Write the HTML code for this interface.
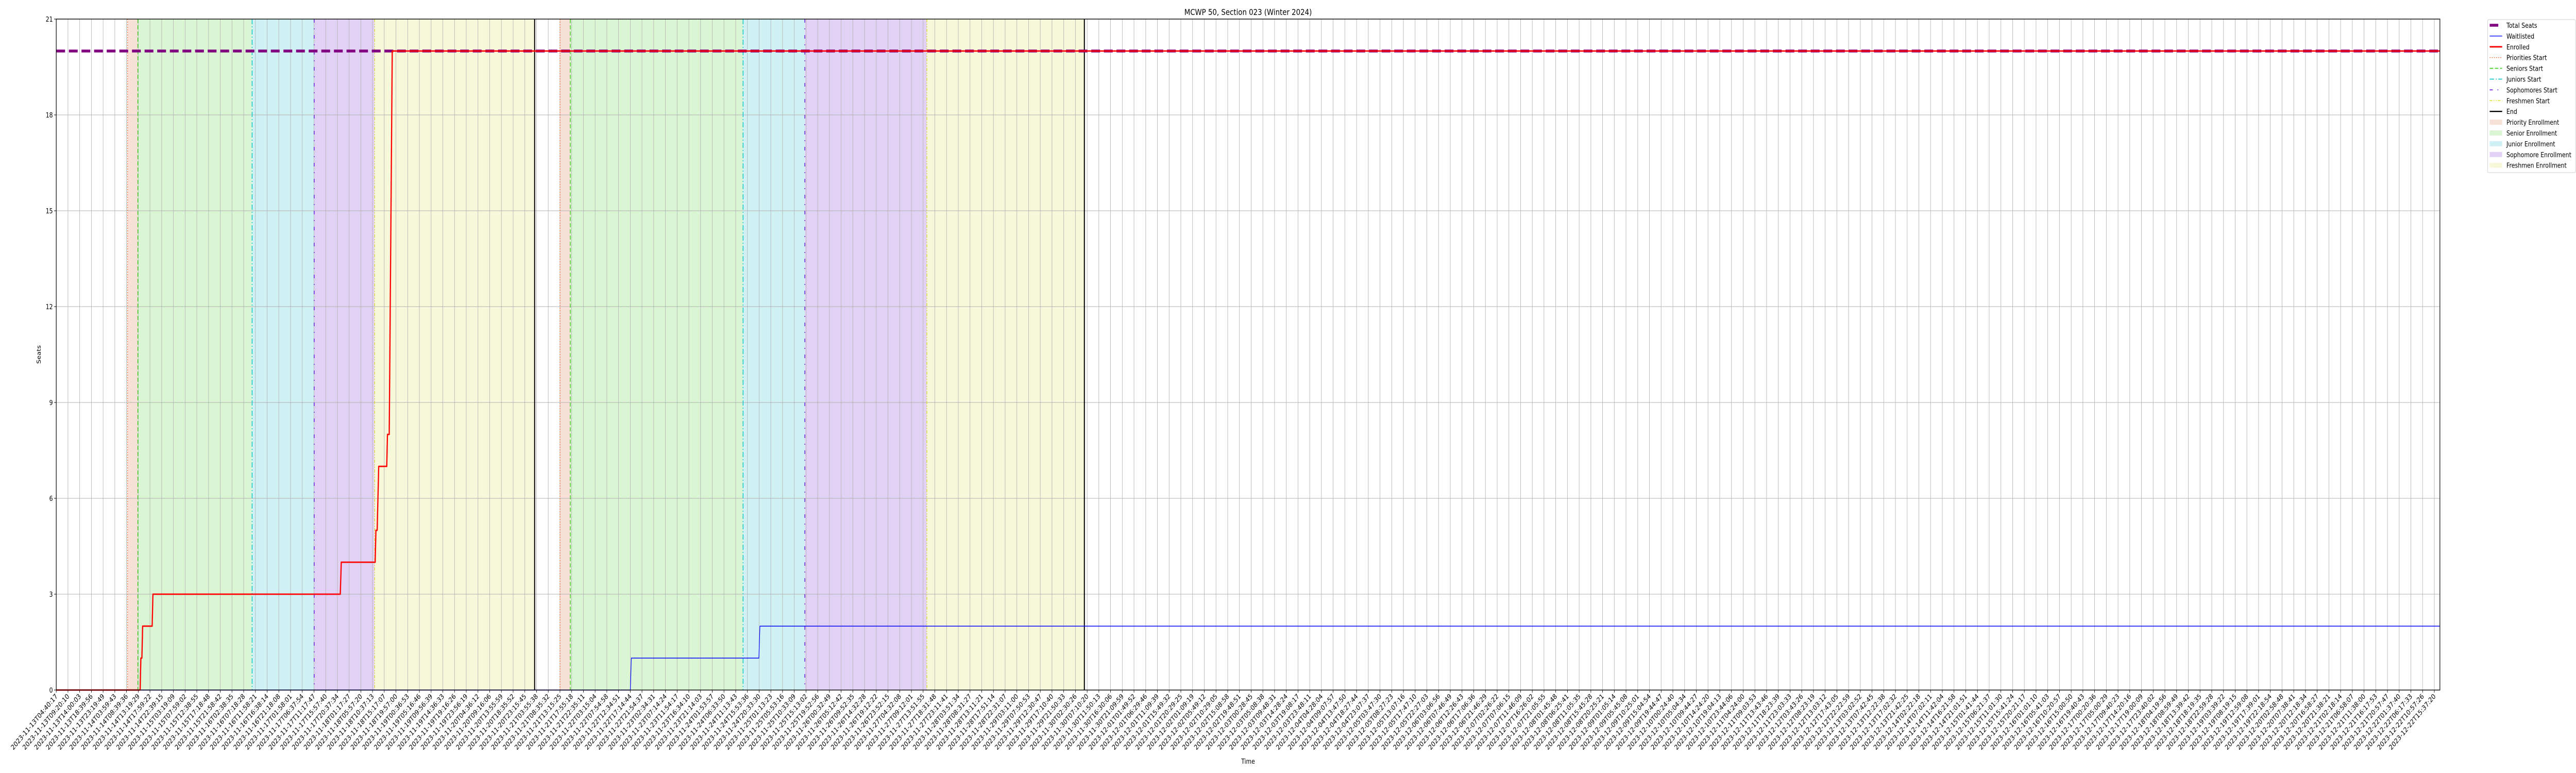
<!DOCTYPE html>
<html><head><meta charset="utf-8"><meta name="viewport" content="width=device-width, initial-scale=1"><title>MCWP 50 enrollment</title>
<style>html,body{margin:0;padding:0;background:#fff;overflow:hidden}svg{display:block;width:100vw;height:100vh}text{font-family:"DejaVu Sans","Liberation Sans",sans-serif}</style>
</head><body>
<svg id="chart" xmlns="http://www.w3.org/2000/svg" viewBox="0 0 6000 1500" preserveAspectRatio="none" overflow="hidden">
<defs><clipPath id="frameClip"><rect x="0" y="0" width="6000" height="1500"/></clipPath></defs>
<rect width="6000" height="1500" fill="#fff"/>
<g id="spans"></g>
<g id="grid"></g>
<g id="vlines"></g>
<g id="series"></g>
<rect x="131" y="37" width="5552" height="1302" fill="none" stroke="#000" stroke-width="1.4"/>
<g id="xticks"></g>
<g id="xlabels" clip-path="url(#frameClip)"></g>
<g id="yticks"></g>
<text x="2907" y="29" font-size="16" text-anchor="middle">MCWP 50, Section 023 (Winter 2024)</text>
<text x="2907" y="1482" font-size="13" text-anchor="middle">Time</text>
<text x="95" y="688" font-size="13" text-anchor="middle" transform="rotate(-90 95 688)">Seats</text>
<g id="legend"></g>
</svg>
<script>
// ---- data (hours since first timestamp) ----
const startTime = "2023-11-13T04:40:17";
const endTime = "2023-12-22T15:37:20";
const tickCount = 204;
const totalSeats = 20;
const enrolledHours = [0, 33.4, 33.7, 34.1, 34.4, 38.2, 38.5, 113.1, 113.5, 127.0, 127.3, 127.8, 128.4, 131.6, 131.9, 132.6, 132.8, 133.8, 950.2];
const enrolledValues = [0, 0, 1, 1, 2, 2, 3, 3, 4, 4, 5, 5, 7, 7, 8, 8, 10, 20, 20];
const waitHours = [0, 228.6, 229.0, 279.8, 280.2, 950.2];
const waitValues = [0, 0, 1, 1, 2, 2];
const prioritiesStart = [28.4, 200.6];
const seniorsStart = [32.5, 204.7];
const juniorsStart = [78.0, 273.5];
const sophomoresStart = [102.7, 298.1];
const freshmenStart = [126.8, 346.7];
const endTimes = [190.5, 409.4];
const yTicks = [0, 3, 6, 9, 12, 15, 18, 21];

const NS = "http://www.w3.org/2000/svg";
const L = 131, R = 5683, T = 37, B = 1339;
const t0 = Date.parse(startTime + "Z"), t1 = Date.parse(endTime + "Z");
const spanH = (t1 - t0) / 3600000;
const lastTickX = 5670;
function x(h) { return Math.min(R, L + h / spanH * (lastTickX - L)); }
function y(v) { return B - v / 21 * (B - T); }
function mk(tag, attrs, parent) { const e = document.createElementNS(NS, tag); for (const k in attrs) e.setAttribute(k, attrs[k]); parent.appendChild(e); return e; }

const gSp = document.getElementById('spans');
const spanDefs = [
  [prioritiesStart, seniorsStart, '#f7e0d6', 'priority-enrollment-span'],
  [seniorsStart, juniorsStart, '#daf5d4', 'senior-enrollment-span'],
  [juniorsStart, sophomoresStart, '#cff1f3', 'junior-enrollment-span'],
  [sophomoresStart, freshmenStart, '#e1d2f5', 'sophomore-enrollment-span'],
  [freshmenStart, endTimes, '#f7f8da', 'freshmen-enrollment-span']
];
spanDefs.forEach(d => { for (let i = 0; i < d[0].length; i++) {
  const r = mk('rect', {x: x(d[0][i]), y: T, width: x(d[1][i]) - x(d[0][i]), height: B - T, fill: d[2]}, gSp);
  
  
}});

const gG = document.getElementById('grid'), gX = document.getElementById('xticks'), gXL = document.getElementById('xlabels'), gY = document.getElementById('yticks');
function pad(n) { return String(n).padStart(2, '0'); }
for (let i = 0; i < tickCount; i++) {
  const h = i * spanH / (tickCount - 1);
  const px = x(h);
  const gl = mk('line', {x1: px, x2: px, y1: T, y2: B, stroke: '#b0b0b0', 'stroke-width': 1}, gG);
  
  
  const tk = mk('line', {x1: px, x2: px, y1: B, y2: B + 5, stroke: '#000', 'stroke-width': 1}, gX);
  
  
  const d = new Date(t0 + h * 3600000);
  const lab = d.getUTCFullYear() + '-' + pad(d.getUTCMonth() + 1) + '-' + pad(d.getUTCDate()) + 'T' + pad(d.getUTCHours()) + ':' + pad(d.getUTCMinutes()) + ':' + pad(d.getUTCSeconds());
  const tx = mk('text', {x: px + 4, y: B + 13, 'font-size': 13.5, 'text-anchor': 'end', transform: 'rotate(-45 ' + (px + 4) + ' ' + (B + 13) + ')'}, gXL);
  tx.textContent = lab;
  
  
}
yTicks.forEach(v => {
  const py = y(v);
  const gl = mk('line', {x1: L, x2: R, y1: py, y2: py, stroke: '#b0b0b0', 'stroke-width': 1}, gG);
  
  
  const tk = mk('line', {x1: L - 5, x2: L, y1: py, y2: py, stroke: '#000', 'stroke-width': 1}, gY);
  
  
  const tx = mk('text', {x: L - 8, y: py + 5, 'font-size': 13, 'text-anchor': 'end'}, gY);
  tx.textContent = v;
  
  
});

const gV = document.getElementById('vlines');
const vDefs = [
  [prioritiesStart, '#ff5a1f', '2 3', 1.4, 'priorities-start-line'],
  [seniorsStart, '#33cc11', '8 4', 1.6, 'seniors-start-line'],
  [juniorsStart, '#11c8d0', '10 4 2 4', 1.8, 'juniors-start-line'],
  [sophomoresStart, '#6a1ee0', '7 11 2 11', 1.8, 'sophomores-start-line'],
  [freshmenStart, '#e0e030', '6 3 2 3 2 3', 1.6, 'freshmen-start-line'],
  [endTimes, '#000', 'none', 2.4, 'end-line']
];
vDefs.forEach(d => d[0].forEach(h => {
  const l = mk('line', {x1: x(h), x2: x(h), y1: T, y2: B, stroke: d[1], 'stroke-width': d[3], 'stroke-dasharray': d[2]}, gV);
  
  
}));

const gS = document.getElementById('series');
const ts = mk('line', {x1: L, x2: R, y1: y(totalSeats), y2: y(totalSeats), stroke: '#800080', 'stroke-width': 5.5, 'stroke-dasharray': '20.5 8.9'}, gS);


function poly(hs, vs) { return hs.map((h, i) => x(h).toFixed(1) + ',' + y(vs[i]).toFixed(1)).join(' '); }
const wl = mk('polyline', {points: poly(waitHours, waitValues), fill: 'none', stroke: '#0000ff', 'stroke-width': 1.4}, gS);


const en = mk('polyline', {points: poly(enrolledHours, enrolledValues), fill: 'none', stroke: '#ff0000', 'stroke-width': 2.8, 'stroke-linejoin': 'round'}, gS);



const gL = document.getElementById('legend');
const lb = mk('rect', {x: 5794, y: 38, width: 205, height: 297, rx: 3, fill: '#fff', 'fill-opacity': 0.8, stroke: '#cccccc', 'stroke-width': 1}, gL);


const legendItems = [
  ['Total Seats', 'line', '#800080', 5.5, '20 9'],
  ['Waitlisted', 'line', '#0000ff', 1.4, 'none'],
  ['Enrolled', 'line', '#ff0000', 2.8, 'none'],
  ['Priorities Start', 'line', '#ff5a1f', 1.4, '2 3'],
  ['Seniors Start', 'line', '#33cc11', 1.6, '8 4'],
  ['Juniors Start', 'line', '#11c8d0', 1.8, '10 4 2 4'],
  ['Sophomores Start', 'line', '#6a1ee0', 1.8, '7 11 2 11'],
  ['Freshmen Start', 'line', '#e0e030', 1.6, '6 3 2 3 2 3'],
  ['End', 'line', '#000', 2.4, 'none'],
  ['Priority Enrollment', 'rect', '#f7e0d6'],
  ['Senior Enrollment', 'rect', '#daf5d4'],
  ['Junior Enrollment', 'rect', '#cff1f3'],
  ['Sophomore Enrollment', 'rect', '#e1d2f5'],
  ['Freshmen Enrollment', 'rect', '#f7f8da']
];
legendItems.forEach((it, i) => {
  const cy = 49 + i * 20.9;
  const g = mk('g', {}, gL);
  
  
  if (it[1] === 'line') mk('line', {x1: 5799, x2: 5828, y1: cy, y2: cy, stroke: it[2], 'stroke-width': it[3], 'stroke-dasharray': it[4]}, g);
  else mk('rect', {x: 5799, y: cy - 5, width: 29, height: 10, fill: it[2]}, g);
  const t = mk('text', {x: 5838, y: cy + 5, 'font-size': 13.2}, g);
  t.textContent = it[0];
});
</script>
</body></html>
